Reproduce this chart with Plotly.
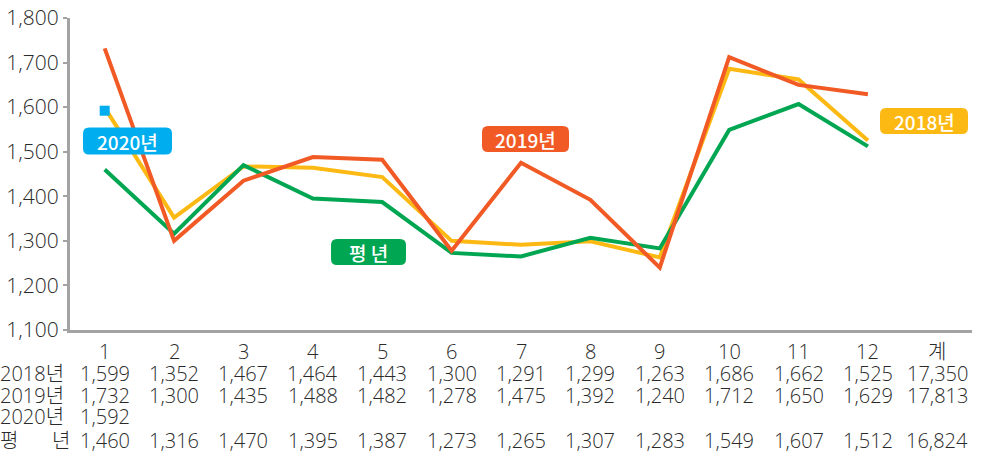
import plotly.graph_objects as go

# ---- data ----
months = ["1", "2", "3", "4", "5", "6", "7", "8", "9", "10", "11", "12"]
total_label = "계"
y2018 = [1599, 1352, 1467, 1464, 1443, 1300, 1291, 1299, 1263, 1686, 1662, 1525]
y2019 = [1732, 1300, 1435, 1488, 1482, 1278, 1475, 1392, 1240, 1712, 1650, 1629]
y2020 = [1592]
normal = [1460, 1316, 1470, 1395, 1387, 1273, 1265, 1307, 1283, 1549, 1607, 1512]
totals = {"2018": 17350, "2019": 17813, "normal": 16824}
row_labels = ["2018년", "2019년", "2020년"]

# ---- style ----
C18 = "#FDB913"
C19 = "#F15A24"
C20 = "#00AEEF"
CN = "#00A651"
TXT = "#2a2a2a"
AX = "#a3a3a3"
FONT = "Open Sans, Noto Sans CJK KR, sans-serif"
LFONT = "Noto Sans CJK KR, Noto Sans, sans-serif"

W, H = 994, 455
L, R, T, B = 70, 22, 18, 125
PW, PH = W - L - R, H - T - B

def px_x(p):
    return (p - L) / PW

def px_y(p):
    return (H - B - p) / PH

cats = months + [total_label]
xi = list(range(len(cats)))

fig = go.Figure()
fig.add_trace(go.Scatter(x=xi[:12], y=y2018, mode="lines", line=dict(color=C18, width=4), hoverinfo="skip"))
fig.add_trace(go.Scatter(x=xi[:12], y=normal, mode="lines", line=dict(color=CN, width=4), hoverinfo="skip"))
fig.add_trace(go.Scatter(x=xi[:12], y=y2019, mode="lines", line=dict(color=C19, width=4), hoverinfo="skip"))
fig.add_trace(go.Scatter(x=xi[:len(y2020)], y=y2020, mode="markers",
                         marker=dict(symbol="square", size=10, color=C20), hoverinfo="skip"))

ann = []
shapes = []
tfont = dict(family=FONT, size=20, color=TXT, weight=300)

def cell(i, py, text):
    ann.append(dict(x=i, xref="x", y=px_y(py), yref="paper", text=text, showarrow=False,
                    font=tfont, xanchor="center", yanchor="middle", height=21, borderpad=0))

def side(xp, py, text, anchor):
    ann.append(dict(x=px_x(xp), xref="paper", y=px_y(py), yref="paper", text=text, showarrow=False,
                    font=tfont, xanchor=anchor, yanchor="middle", height=21, borderpad=0))

# table rows
row_y = [351, 373, 395, 417, 440]
for i, c in enumerate(cats):
    cell(i, row_y[0], c)

fmt = lambda v: f"{v:,}"
rows = [(y2018, totals["2018"]), (y2019, totals["2019"]), (y2020, None)]
for r, (vals, tot) in enumerate(rows):
    py = row_y[r + 1]
    side(-1, py, row_labels[r], "left")
    for i, v in enumerate(vals):
        cell(i, py, fmt(v))
    if tot is not None:
        cell(12, py, fmt(tot))

py = row_y[4]
side(-1, py, "평", "left")
side(71, py, "년", "right")
for i, v in enumerate(normal):
    cell(i, py, fmt(v))
cell(12, py, fmt(totals["normal"]))

# series labels (rounded boxes)
def rrect(w, h, r):
    x0, x1, y0, y1 = -w / 2, w / 2, -h / 2, h / 2
    return (f"M{x0+r},{y0} L{x1-r},{y0} Q{x1},{y0} {x1},{y0+r} L{x1},{y1-r} Q{x1},{y1} {x1-r},{y1} "
            f"L{x0+r},{y1} Q{x0},{y1} {x0},{y1-r} L{x0},{y0+r} Q{x0},{y0} {x0+r},{y0} Z")

labels = [("2020년", C20, 127.5, 141, 89, 27),
          ("2019년", C19, 525.5, 139, 87, 26),
          ("평 년", CN, 368.5, 252, 75, 26),
          ("2018년", C18, 924, 121, 88, 26)]
for text, col, cx, cy, w, h in labels:
    shapes.append(dict(type="path", xref="paper", yref="paper", xsizemode="pixel", ysizemode="pixel",
                       xanchor=px_x(cx), yanchor=px_y(cy), path=rrect(w, h, 6),
                       fillcolor=col, line=dict(width=0), layer="above"))
    ann.append(dict(x=px_x(cx), xref="paper", y=px_y(cy), yref="paper", text=text, showarrow=False,
                    font=dict(family=LFONT, size=19, color="white", weight=500),
                    xanchor="center", yanchor="middle"))

fig.update_layout(
    width=W, height=H,
    margin=dict(l=L, r=R, t=T, b=B),
    paper_bgcolor="white", plot_bgcolor="white",
    showlegend=False,
    annotations=ann, shapes=shapes,
    font=dict(family=FONT, color=TXT),
    xaxis=dict(range=[-0.5, 12.5], showticklabels=False, ticks="", showgrid=False, zeroline=False,
               showline=True, linecolor=AX, linewidth=3, automargin=False),
    yaxis=dict(range=[1100, 1800], dtick=100, tickformat=",", showgrid=False, zeroline=False,
               showline=True, linecolor=AX, linewidth=3, ticks="outside", ticklen=4, tickwidth=2,
               tickcolor=AX, automargin=False, tickfont=dict(family=FONT, size=21, color=TXT, weight=300)),
)

fig.write_html("out.html", config={"displayModeBar": False},
               post_script="document.body.style.margin='0';")
